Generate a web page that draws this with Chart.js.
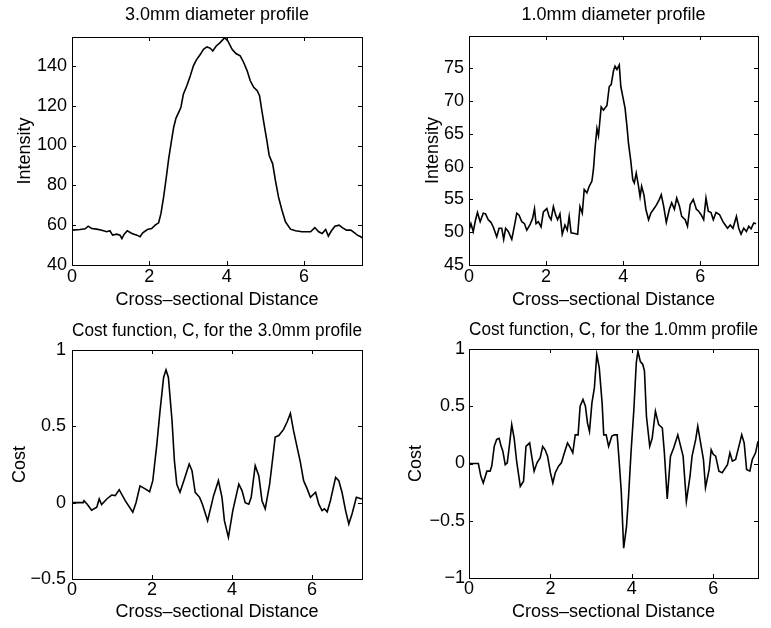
<!DOCTYPE html>
<html>
<head>
<meta charset="utf-8">
<title>Profiles and cost functions</title>
<script src="https://cdn.jsdelivr.net/npm/chart.js@4.4.1/dist/chart.umd.min.js"></script>
<style>
  html, body { margin: 0; padding: 0; background: #fff; }
  #wrap { position: relative; width: 771px; height: 628px; }
  .panel { position: absolute; }
</style>
</head>
<body>
<div id="wrap">
  <div class="panel" style="left:0;top:0;width:390px;height:312px"><canvas id="c1"></canvas></div>
  <div class="panel" style="left:390px;top:0;width:381px;height:312px"><canvas id="c2"></canvas></div>
  <div class="panel" style="left:0;top:312px;width:390px;height:316px"><canvas id="c3"></canvas></div>
  <div class="panel" style="left:390px;top:312px;width:381px;height:316px"><canvas id="c4"></canvas></div>
</div>
<script>
// --- data ---

// 3.0mm diameter profile
const prof3X = [0, 0.21, 0.34, 0.42, 0.51, 0.64, 0.77, 0.90, 0.98, 1.05, 1.16, 1.24, 1.29, 1.35, 1.43, 1.55, 1.68, 1.76, 1.83, 1.95,
  2.06, 2.15, 2.24, 2.30, 2.37, 2.44, 2.50, 2.56, 2.63, 2.69, 2.78, 2.82, 2.88, 2.97, 3.06, 3.14, 3.21, 3.32, 3.40, 3.49,
  3.58, 3.64, 3.73, 3.83, 3.95, 4.03, 4.14, 4.24, 4.35, 4.44, 4.53, 4.61, 4.70, 4.79, 4.85, 4.91, 4.98, 5.04, 5.10, 5.19,
  5.26, 5.34, 5.43, 5.52, 5.65, 5.78, 5.95, 6.17, 6.28, 6.38, 6.47, 6.56, 6.63, 6.71, 6.80, 6.91, 6.99, 7.10, 7.21, 7.30,
  7.38, 7.47, 7.50];
const prof3Y = [57.5, 57.8, 58.2, 59.5, 58.3, 58.0, 57.5, 56.7, 57.2, 55.0, 55.5, 55.0, 53.3, 55.5, 57.2, 55.8, 55.0, 54.2, 56.2, 57.8,
  58.3, 60.0, 61.2, 65.8, 74.2, 84.2, 93.3, 100.8, 109.2, 113.8, 117.5, 119.5, 125.8, 130.0, 135.0, 140.0, 142.8, 145.8, 148.3, 149.5,
  148.8, 147.5, 150.0, 151.7, 154.2, 152.5, 148.3, 146.2, 145.0, 141.7, 137.5, 132.5, 129.2, 127.5, 125.0, 117.5, 109.2, 102.5, 95.0, 90.8,
  82.5, 74.2, 67.5, 61.7, 58.0, 57.2, 56.7, 56.7, 58.8, 56.7, 55.8, 57.8, 54.5, 57.2, 59.5, 60.0, 58.8, 57.5, 57.5, 56.3,
  55.0, 54.2, 53.6];

// 1.0mm diameter profile
const prof1X = [0.00, 0.05, 0.11, 0.17, 0.22, 0.29, 0.37, 0.43, 0.50, 0.57, 0.63, 0.72, 0.78, 0.85, 0.90, 0.95, 1.02, 1.11, 1.19, 1.24,
  1.30, 1.37, 1.44, 1.50, 1.58, 1.65, 1.70, 1.74, 1.80, 1.87, 1.93, 2.02, 2.08, 2.13, 2.19, 2.25, 2.30, 2.36, 2.42, 2.49,
  2.55, 2.60, 2.65, 2.74, 2.82, 2.88, 2.94, 2.99, 3.06, 3.12, 3.19, 3.23, 3.27, 3.32, 3.36, 3.43, 3.49, 3.58, 3.64, 3.69,
  3.75, 3.79, 3.84, 3.90, 3.94, 3.99, 4.05, 4.10, 4.14, 4.20, 4.25, 4.29, 4.34, 4.40, 4.44, 4.48, 4.54, 4.59, 4.66, 4.72,
  4.79, 4.87, 4.94, 4.99, 5.05, 5.12, 5.20, 5.26, 5.33, 5.39, 5.46, 5.52, 5.61, 5.67, 5.74, 5.82, 5.90, 5.96, 6.02, 6.09,
  6.15, 6.21, 6.28, 6.34, 6.41, 6.50, 6.59, 6.65, 6.71, 6.78, 6.85, 6.94, 7.00, 7.06, 7.13, 7.20, 7.26, 7.32, 7.39, 7.45];
const prof1Y = [50.3, 51.3, 50.1, 51.9, 53.0, 51.6, 52.9, 52.8, 51.9, 51.5, 50.8, 49.3, 50.6, 50.6, 48.9, 50.6, 50.1, 48.9, 51.3, 52.9,
  52.6, 51.6, 51.3, 50.3, 51.1, 52.1, 53.6, 51.3, 51.6, 50.8, 53.1, 53.6, 52.4, 51.9, 53.9, 52.6, 51.9, 52.8, 49.7, 51.1,
  50.3, 52.4, 49.9, 49.8, 49.7, 53.9, 52.9, 56.5, 56.0, 57.0, 57.8, 59.6, 62.7, 65.8, 64.7, 69.1, 68.6, 69.3, 72.2, 72.5,
  74.6, 75.3, 74.8, 75.5, 72.2, 70.7, 68.9, 66.1, 63.5, 60.8, 58.0, 57.5, 59.0, 57.0, 55.4, 57.0, 55.7, 53.5, 51.9, 52.9,
  53.5, 54.2, 55.0, 55.7, 54.0, 51.5, 53.5, 54.5, 53.5, 55.2, 54.0, 52.4, 51.9, 50.9, 54.2, 55.0, 53.5, 53.2, 52.7, 51.9,
  55.2, 53.2, 53.0, 51.9, 53.0, 52.7, 51.6, 51.1, 50.6, 51.1, 50.6, 52.4, 50.6, 49.7, 50.6, 50.1, 50.9, 50.5, 51.4, 51.3];

// Cost function for the 3.0mm profile
const cost3X = [0, 0.28, 0.30, 0.38, 0.49, 0.62, 0.68, 0.74, 0.87, 0.99, 1.08, 1.18, 1.33, 1.52, 1.60, 1.70, 1.83, 1.94, 2.02, 2.12,
  2.20, 2.29, 2.35, 2.41, 2.50, 2.56, 2.62, 2.70, 2.81, 2.93, 3.00, 3.08, 3.19, 3.26, 3.39, 3.54, 3.66, 3.75, 3.81, 3.91,
  4.02, 4.17, 4.25, 4.33, 4.42, 4.48, 4.58, 4.67, 4.75, 4.83, 4.94, 5.04, 5.08, 5.17, 5.29, 5.38, 5.46, 5.54, 5.63, 5.71,
  5.79, 5.88, 5.96, 6.09, 6.17, 6.25, 6.31, 6.38, 6.46, 6.59, 6.67, 6.75, 6.84, 6.92, 7.00, 7.11, 7.25];
const cost3Y = [0, 0, 0.013, -0.01, -0.05, -0.03, 0.024, -0.013, 0.024, 0.05, 0.046, 0.085, 0.013, -0.063, 0, 0.11, 0.09, 0.072, 0.144, 0.38,
  0.60, 0.82, 0.87, 0.82, 0.54, 0.275, 0.12, 0.068, 0.155, 0.253, 0.21, 0.068, 0.035, -0.01, -0.118, 0.046, 0.144, 0.035, -0.118, -0.227,
  -0.052, 0.122, 0.079, 0, -0.01, 0.035, 0.242, 0.177, 0.013, -0.04, 0.12, 0.34, 0.43, 0.44, 0.48, 0.53, 0.585, 0.47, 0.36, 0.264,
  0.144, 0.09, 0.035, 0.068, -0.01, -0.052, -0.04, -0.06, 0.013, 0.166, 0.144, 0.068, -0.052, -0.14, -0.074, 0.035, 0.024];

// Cost function for the 1.0mm profile
const cost1X = [0, 0.23, 0.29, 0.35, 0.44, 0.52, 0.56, 0.62, 0.68, 0.74, 0.79, 0.83, 0.89, 0.94, 0.99, 1.05, 1.11, 1.17, 1.26, 1.34,
  1.40, 1.49, 1.54, 1.60, 1.67, 1.75, 1.81, 1.87, 1.93, 2.00, 2.06, 2.12, 2.20, 2.27, 2.34, 2.42, 2.49, 2.55, 2.61, 2.68,
  2.73, 2.80, 2.86, 2.91, 2.96, 3.02, 3.08, 3.14, 3.20, 3.27, 3.31, 3.37, 3.43, 3.51, 3.57, 3.64, 3.68, 3.74, 3.80, 3.87,
  3.92, 3.98, 4.05, 4.11, 4.15, 4.21, 4.27, 4.31, 4.36, 4.44, 4.50, 4.58, 4.66, 4.75, 4.80, 4.87, 4.95, 5.03, 5.13, 5.20,
  5.26, 5.34, 5.43, 5.48, 5.57, 5.62, 5.69, 5.76, 5.81, 5.90, 5.95, 6.00, 6.06, 6.14, 6.22, 6.35, 6.41, 6.47, 6.55, 6.63,
  6.70, 6.76, 6.82, 6.90, 6.96, 7.04, 7.10];
const cost1Y = [0, 0, -0.11, -0.17, -0.067, -0.067, -0.02, 0.15, 0.21, 0.22, 0.15, 0.11, -0.01, 0.006, 0.15, 0.34, 0.22, 0.02, -0.20, -0.154,
  0.15, 0.18, 0.064, -0.067, 0.006, 0.05, 0.15, 0.12, 0.064, -0.08, -0.17, -0.08, -0.023, 0.006, 0.09, 0.18, 0.137, 0.093, 0.25, 0.25,
  0.50, 0.56, 0.50, 0.355, 0.28, 0.53, 0.66, 0.95, 0.835, 0.53, 0.25, 0.25, 0.15, 0.24, 0.25, 0.25, 0.064, -0.24, -0.74, -0.55,
  -0.285, 0.093, 0.47, 0.88, 0.98, 0.89, 0.865, 0.81, 0.41, 0.15, 0.22, 0.457, 0.34, 0.31, 0.093, -0.31, 0.064, 0.137, 0.25, 0.15,
  0.064, -0.33, -0.11, 0.064, 0.21, 0.326, 0.18, 0.035, -0.21, -0.052, 0.12, 0.08, 0.064, -0.067, -0.08, -0.01, 0.093, 0.02, 0.035, 0.15,
  0.25, 0.18, -0.052, -0.067, 0.035, 0.093, 0.195];

const xLabel = 'Cross\u2013sectional Distance';
const FONT = "'Liberation Sans', Arial, Helvetica, sans-serif";

// MATLAB style box with inward ticks on all four sides
const boxPlugin = {
  id: 'boxPlugin',
  afterDraw(chart) {
    const { ctx, chartArea: a } = chart;
    const xs = chart.scales.x, ys = chart.scales.y;
    const len = 4;
    ctx.save();
    ctx.strokeStyle = '#000';
    ctx.lineWidth = 1;
    ctx.strokeRect(a.left + 0.5, a.top + 0.5, a.right - a.left, a.bottom - a.top);
    ctx.beginPath();
    xs.ticks.forEach(t => {
      const px = Math.round(xs.getPixelForValue(t.value)) + 0.5;
      ctx.moveTo(px, a.bottom); ctx.lineTo(px, a.bottom - len);
      ctx.moveTo(px, a.top); ctx.lineTo(px, a.top + len);
    });
    ys.ticks.forEach(t => {
      const py = Math.round(ys.getPixelForValue(t.value)) + 0.5;
      ctx.moveTo(a.left, py); ctx.lineTo(a.left + len, py);
      ctx.moveTo(a.right, py); ctx.lineTo(a.right - len, py);
    });
    ctx.stroke();
    ctx.restore();
  }
};

const fmt = v => String(v).replace('-', '\u2212');

function makePanel(id, o) {
  const font = { family: FONT, size: 18, weight: 'normal' };
  return new Chart(document.getElementById(id), {
    type: 'line',
    data: {
      datasets: [{
        data: o.xs.map((x, i) => ({ x: x, y: o.ys[i] })),
        borderColor: '#000',
        borderWidth: 1.6,
        pointRadius: 0,
        tension: 0,
        fill: false
      }]
    },
    options: {
      animation: false,
      responsive: true,
      maintainAspectRatio: false,
      layout: { padding: { left: 0, right: o.padRight, top: 0, bottom: 0 } },
      plugins: {
        legend: { display: false },
        tooltip: { enabled: false },
        title: {
          display: true, text: o.title, color: '#000', font: font, fullSize: false,
          padding: { top: o.titleTop, bottom: o.titleBottom }
        }
      },
      scales: {
        x: {
          type: 'linear', min: 0, max: o.xMax,
          grid: { display: false, drawTicks: false, tickLength: 0 }, border: { display: false },
          ticks: { stepSize: 2, includeBounds: false, color: '#000', font: font, padding: o.xTickPad, maxRotation: 0, callback: fmt },
          title: { display: true, text: xLabel, color: '#000', font: font, padding: { top: 0, bottom: o.xTitlePad } },
          afterFit(s) { s.height = o.xHeight; }
        },
        y: {
          type: 'linear', min: o.yMin, max: o.yMax,
          grid: { display: false, drawTicks: false, tickLength: 0 }, border: { display: false },
          ticks: { stepSize: o.yStep, includeBounds: false, color: '#000', font: font, padding: o.yTickPad, callback: fmt },
          title: { display: true, text: o.yLabel, color: '#000', font: font, padding: { top: o.yTitlePad, bottom: 0 } },
          afterFit(s) { s.width = o.yWidth; }
        }
      }
    },
    plugins: [boxPlugin]
  });
}

makePanel('c1', {
  xs: prof3X, ys: prof3Y, title: '3.0mm diameter profile', yLabel: 'Intensity',
  xMax: 7.5, yMin: 40, yMax: 154.5, yStep: 20,
  titleTop: 4, titleBottom: 11.4, yWidth: 72, yTitlePad: 14, yTickPad: 5,
  xHeight: 47, xTickPad: 1, xTitlePad: 1, padRight: 28
});
makePanel('c2', {
  xs: prof1X, ys: prof1Y, title: '1.0mm diameter profile', yLabel: 'Intensity',
  xMax: 7.5, yMin: 45, yMax: 79.9, yStep: 5,
  titleTop: 4, titleBottom: 10.4, yWidth: 79, yTitlePad: 32, yTickPad: 5,
  xHeight: 47, xTickPad: 1, xTitlePad: 1, padRight: 13
});
makePanel('c3', {
  xs: cost3X, ys: cost3Y, title: 'Cost function, C, for the 3.0mm profile', yLabel: 'Cost',
  xMax: 7.25, yMin: -0.5, yMax: 1, yStep: 0.5,
  titleTop: 8, titleBottom: 8.4, yWidth: 72, yTitlePad: 9, yTickPad: 6,
  xHeight: 49, xTickPad: 0, xTitlePad: 5, padRight: 28
});
makePanel('c4', {
  xs: cost1X, ys: cost1Y, title: 'Cost function, C, for the 1.0mm profile', yLabel: 'Cost',
  xMax: 7.1, yMin: -1, yMax: 1, yStep: 0.5,
  titleTop: 7, titleBottom: 8.4, yWidth: 79, yTitlePad: 15, yTickPad: 4,
  xHeight: 50, xTickPad: 0, xTitlePad: 5, padRight: 13
});
</script>
</body>
</html>
